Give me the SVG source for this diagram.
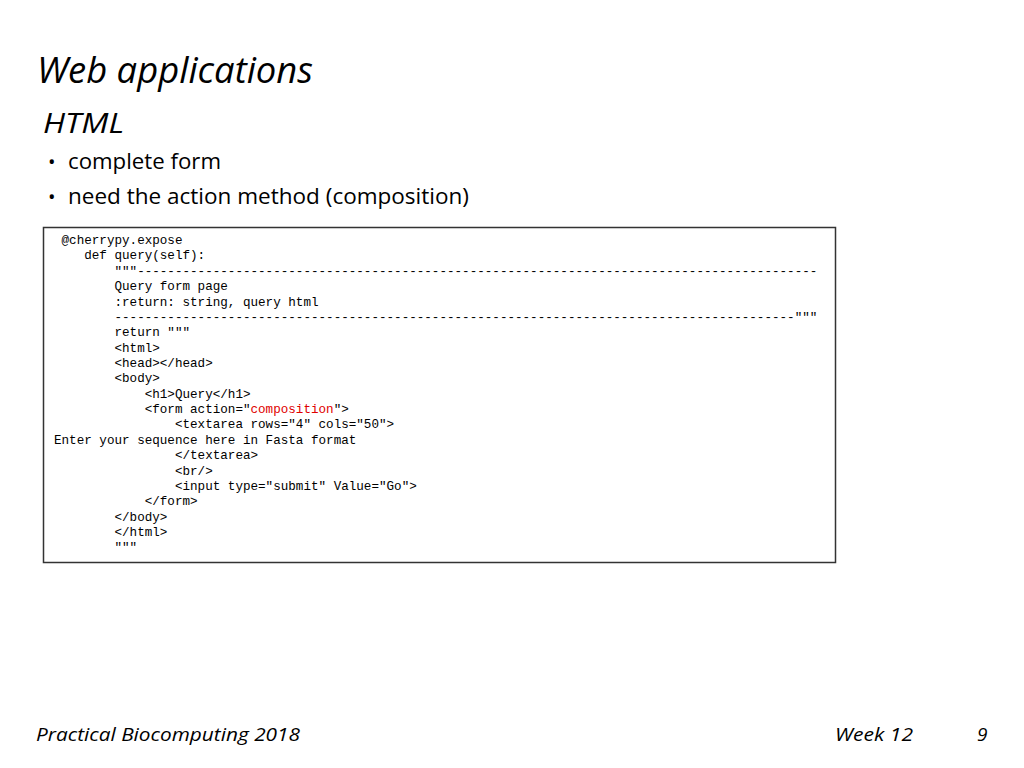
<svg xmlns="http://www.w3.org/2000/svg" width="1024" height="768" viewBox="0 0 1024 768">
<style>
.t{font-family:"Open Sans","Liberation Sans",sans-serif;fill:#000}
.c{font-family:"Liberation Mono",monospace;font-size:12.6px;fill:#000;white-space:pre}
</style>
<rect width="1024" height="768" fill="#fff"/>
<text class="t" x="37" y="83" font-size="37" font-style="italic" textLength="276" lengthAdjust="spacingAndGlyphs">Web applications</text>
<text class="t" x="43" y="133" font-size="28" font-style="italic" textLength="81" lengthAdjust="spacingAndGlyphs">HTML</text>
<text class="t" x="48" y="169" font-size="20">•</text>
<text class="t" x="68" y="169" font-size="21" textLength="153" lengthAdjust="spacingAndGlyphs">complete form</text>
<text class="t" x="48" y="204" font-size="20">•</text>
<text class="t" x="68" y="204" font-size="21" textLength="401" lengthAdjust="spacingAndGlyphs">need the action method (composition)</text>
<g id="code">
<rect x="43.5" y="227.5" width="792" height="335" fill="#fff" stroke="#333" stroke-width="1.5"/>
<text class="c" xml:space="preserve">
<tspan x="54" y="244"> @cherrypy.expose</tspan>
<tspan x="54" y="259.4">    def query(self):</tspan>
<tspan x="54" y="274.7">        """------------------------------------------------------------------------------------------</tspan>
<tspan x="54" y="290.1">        Query form page</tspan>
<tspan x="54" y="305.5">        :return: string, query html</tspan>
<tspan x="54" y="320.8">        ------------------------------------------------------------------------------------------"""</tspan>
<tspan x="54" y="336.2">        return """</tspan>
<tspan x="54" y="351.6">        &lt;html&gt;</tspan>
<tspan x="54" y="366.9">        &lt;head&gt;&lt;/head&gt;</tspan>
<tspan x="54" y="382.3">        &lt;body&gt;</tspan>
<tspan x="54" y="397.7">            &lt;h1&gt;Query&lt;/h1&gt;</tspan>
<tspan x="54" y="413">            &lt;form action="<tspan fill="#e00000">composition</tspan>"&gt;</tspan>
<tspan x="54" y="428.4">                &lt;textarea rows="4" cols="50"&gt;</tspan>
<tspan x="54" y="443.8">Enter your sequence here in Fasta format</tspan>
<tspan x="54" y="459.1">                &lt;/textarea&gt;</tspan>
<tspan x="54" y="474.5">                &lt;br/&gt;</tspan>
<tspan x="54" y="489.9">                &lt;input type="submit" Value="Go"&gt;</tspan>
<tspan x="54" y="505.2">            &lt;/form&gt;</tspan>
<tspan x="54" y="520.6">        &lt;/body&gt;</tspan>
<tspan x="54" y="536">        &lt;/html&gt;</tspan>
<tspan x="54" y="551.3">        """</tspan>
</text>
</g>
<text class="t" x="36" y="741" font-size="19" font-style="italic" textLength="264" lengthAdjust="spacingAndGlyphs">Practical Biocomputing 2018</text>
<text class="t" x="835" y="741" font-size="19" font-style="italic" textLength="78" lengthAdjust="spacingAndGlyphs">Week 12</text>
<text class="t" x="977" y="741" font-size="19" font-style="italic">9</text>
</svg>
